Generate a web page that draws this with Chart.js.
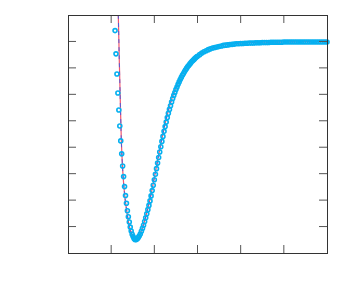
<!DOCTYPE html>
<html>
<head>
<meta charset="utf-8">
<script src="https://cdn.jsdelivr.net/npm/chart.js@4.4.1/dist/chart.umd.min.js"></script>
<style>
  html, body { margin: 0; padding: 0; background: #fff; }
  #wrap { width: 349px; height: 300px; }
</style>
</head>
<body>
<div id="wrap"><canvas id="myChart" width="349" height="300"></canvas></div>
<script>
// punti (cerchietti azzurri): distanza r e valore v
const rMarkers = [
  1.090, 1.112, 1.134, 1.156, 1.178, 1.200, 1.222, 1.244, 1.266, 1.288, 1.310, 1.332,
  1.354, 1.376, 1.398, 1.420, 1.442, 1.464, 1.486, 1.508, 1.530, 1.552, 1.574,
  1.600, 1.625, 1.650, 1.675, 1.700, 1.725, 1.750, 1.775, 1.800, 1.825,
  1.850, 1.875, 1.900, 1.925, 1.950, 1.975, 2.000, 2.025, 2.050, 2.075,
  2.100, 2.125, 2.150, 2.175, 2.200, 2.225, 2.250, 2.275, 2.300, 2.325,
  2.350, 2.375, 2.400, 2.425, 2.450, 2.475, 2.500, 2.525, 2.550, 2.575,
  2.600, 2.625, 2.650, 2.675, 2.700, 2.725, 2.750, 2.775, 2.800, 2.825,
  2.850, 2.875, 2.900, 2.925, 2.950, 2.975, 3.000,
  3.05, 3.10, 3.15, 3.20, 3.25, 3.30, 3.35, 3.40, 3.45, 3.50,
  3.55, 3.60, 3.65, 3.70, 3.75, 3.80, 3.85, 3.90, 3.95, 4.00,
  4.05, 4.10, 4.15, 4.20, 4.25, 4.30, 4.35, 4.40, 4.45, 4.50,
  4.55, 4.60, 4.65, 4.70, 4.75, 4.80, 4.85, 4.90, 4.95, 5.00,
  5.05, 5.10, 5.15, 5.20, 5.25, 5.30, 5.35, 5.40, 5.45, 5.50,
  5.55, 5.60, 5.65, 5.70, 5.75, 5.80, 5.85, 5.90, 5.95, 6.00
];
const vMarkers = [
  8.41, 7.53, 6.77, 6.05, 5.41, 4.80, 4.24, 3.75, 3.29, 2.89, 2.51, 2.17,
  1.88, 1.60, 1.37, 1.17, 0.98, 0.83, 0.71, 0.62, 0.55, 0.51, 0.50,
  0.53, 0.58, 0.64, 0.72, 0.82, 0.93, 1.05, 1.19, 1.33, 1.48,
  1.64, 1.80, 1.97, 2.16, 2.36, 2.56, 2.77, 2.98, 3.19, 3.40,
  3.61, 3.82, 4.02, 4.22, 4.41, 4.60, 4.78, 4.95, 5.12, 5.28,
  5.43, 5.57, 5.71, 5.84, 5.96, 6.07, 6.18, 6.28, 6.38, 6.47,
  6.56, 6.64, 6.72, 6.79, 6.86, 6.93, 6.99, 7.05, 7.10, 7.15,
  7.20, 7.25, 7.29, 7.33, 7.37, 7.41, 7.44,
  7.50, 7.56, 7.61, 7.65, 7.69, 7.72, 7.75, 7.77, 7.79, 7.81,
  7.83, 7.85, 7.86, 7.87, 7.88, 7.89, 7.90, 7.91, 7.91, 7.92,
  7.92, 7.93, 7.93, 7.94, 7.94, 7.94, 7.95, 7.95, 7.95, 7.96,
  7.96, 7.96, 7.96, 7.97, 7.97, 7.97, 7.97, 7.97, 7.97, 7.98,
  7.98, 7.98, 7.98, 7.98, 7.98, 7.98, 7.98, 7.98, 7.98, 7.98,
  7.98, 7.98, 7.98, 7.98, 7.98, 7.98, 7.98, 7.98, 7.98, 7.98
];

// curva di fit (linea rossa + tratteggio blu)
const rFit = [
  1.150, 1.165, 1.188, 1.211, 1.235, 1.267, 1.313, 1.360, 1.400, 1.450, 1.500, 1.550,
  1.600, 1.650, 1.700, 1.750, 1.800, 1.850, 1.900, 1.950, 2.000, 2.100, 2.200, 2.300,
  2.400, 2.500, 2.600, 2.700, 2.800, 2.900, 3.000, 3.200, 3.400, 3.600, 3.800, 4.000,
  4.500, 5.000, 5.500, 6.000
];
const vFit = [
  9.60, 9.00, 7.30, 5.79, 4.27, 3.14, 2.19, 1.60, 1.18, 0.84, 0.63, 0.52,
  0.53, 0.65, 0.84, 1.08, 1.37, 1.69, 2.04, 2.43, 2.85, 3.71, 4.52, 5.23,
  5.81, 6.27, 6.63, 6.92, 7.15, 7.33, 7.47, 7.67, 7.79, 7.87, 7.91, 7.94,
  7.97, 7.98, 7.99, 7.99
];

// tacche degli assi (senza etichette)
const xTicks = [1, 2, 3, 4, 5];
const yTicks = [1, 2, 3, 4, 5, 6, 7, 8];

const markerPts = rMarkers.map((r, i) => ({ x: r, y: vMarkers[i] }));
const fitPts = rFit.map((r, i) => ({ x: r, y: vFit[i] }));

// cornice e tacche verso l'interno su tutti e quattro i lati
const frameTicks = {
  id: 'frameTicks',
  afterDatasetsDraw(chart) {
    const { ctx, chartArea: a, scales } = chart;
    const len = 8;
    ctx.save();
    ctx.strokeStyle = '#555';
    ctx.lineWidth = 1;
    ctx.beginPath();
    xTicks.forEach(v => {
      const px = scales.x.getPixelForValue(v);
      ctx.moveTo(px, a.bottom); ctx.lineTo(px, a.bottom - len);
      ctx.moveTo(px, a.top); ctx.lineTo(px, a.top + len);
    });
    yTicks.forEach(v => {
      const py = scales.y.getPixelForValue(v);
      ctx.moveTo(a.left, py); ctx.lineTo(a.left + len, py);
      ctx.moveTo(a.right, py); ctx.lineTo(a.right - len, py);
    });
    ctx.stroke();
    ctx.strokeStyle = '#333';
    ctx.strokeRect(a.left + 0.5, a.top + 0.5, a.right - a.left, a.bottom - a.top);
    ctx.restore();
  }
};

const ctx = document.getElementById('myChart').getContext('2d');
new Chart(ctx, {
  type: 'scatter',
  data: {
    datasets: [
      {
        data: markerPts,
        showLine: false,
        pointStyle: 'circle',
        pointRadius: 2,
        pointBorderWidth: 1.6,
        pointBorderColor: '#06b0f0',
        pointBackgroundColor: 'rgba(0,0,0,0)',
        clip: false,
        order: 0
      },
      {
        data: fitPts,
        showLine: true,
        pointRadius: 0,
        borderColor: '#5a5ad2',
        borderWidth: 1,
        borderDash: [4, 4],
        cubicInterpolationMode: 'monotone',
        order: 1
      },
      {
        data: fitPts,
        showLine: true,
        pointRadius: 0,
        borderColor: '#f0566e',
        borderWidth: 1.2,
        cubicInterpolationMode: 'monotone',
        order: 2
      }
    ]
  },
  options: {
    responsive: false,
    animation: false,
    layout: { padding: { left: 68, right: 22, top: 15, bottom: 47 } },
    plugins: {
      legend: { display: false },
      tooltip: { enabled: false }
    },
    scales: {
      x: { type: 'linear', min: 0, max: 6, display: false },
      y: { type: 'linear', min: 0, max: 9, display: false }
    }
  },
  plugins: [frameTicks]
});
</script>
</body>
</html>
